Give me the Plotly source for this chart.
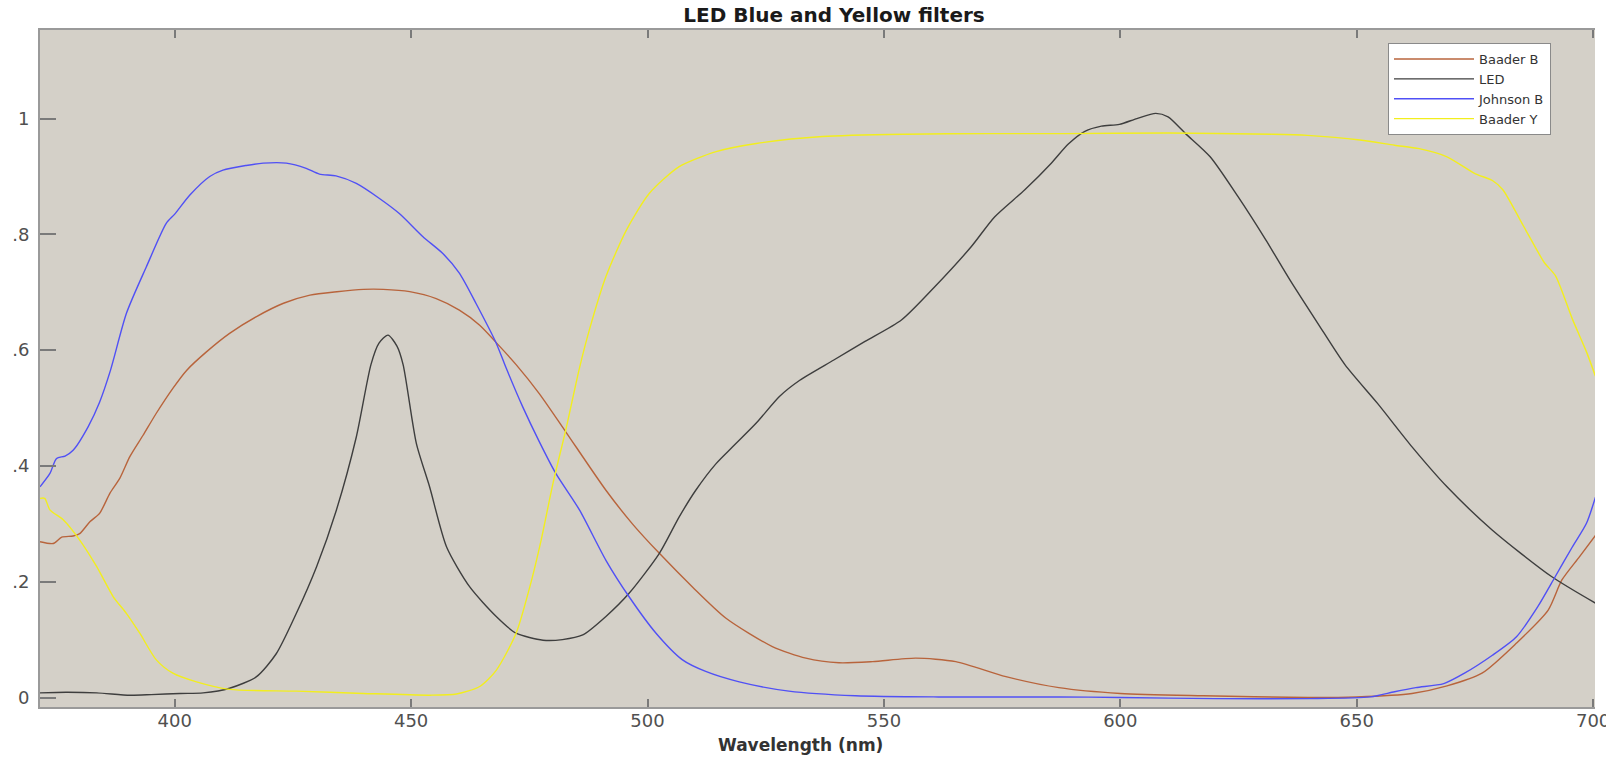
import plotly.graph_objects as go

# ---------------- data ----------------
wl_baader_b = [371.5, 374.3, 376.1, 378.5, 379.9, 382.1, 384.1, 386.3, 388.4, 390.5, 393.3, 396.1,
               399.6, 402.5, 406.7, 411.6, 417.3, 423.0, 428.6, 434.3, 439.9, 444.1, 449.7, 455.3,
               460.2, 464.5, 468.0, 472.2, 477.1, 482.7, 491.2, 496.8, 502.5, 509.5, 516.6, 526.4,
               533.5, 540.5, 547.6, 556.7, 565.2, 575.8, 587.0, 600.0, 617.5, 639.6, 650.0, 661.7,
               669.1, 676.5, 683.8, 690.5, 693.4, 697.1, 700.5]
baader_b = [0.269, 0.266, 0.277, 0.279, 0.283, 0.304, 0.318, 0.353, 0.379, 0.416, 0.453, 0.491,
            0.534, 0.565, 0.597, 0.629, 0.658, 0.681, 0.695, 0.701, 0.705, 0.705, 0.701, 0.689,
            0.669, 0.643, 0.613, 0.575, 0.525, 0.459, 0.358, 0.300, 0.249, 0.191, 0.137, 0.088,
            0.068, 0.060, 0.062, 0.068, 0.062, 0.036, 0.017, 0.007, 0.003, 0.000, 0.001, 0.007,
            0.020, 0.042, 0.094, 0.151, 0.203, 0.243, 0.280]

wl_led = [371.5, 377.0, 383.5, 390.5, 395.0, 401.1, 406.0, 411.6, 417.3, 421.5, 425.7, 430.0,
          434.2, 438.4, 441.5, 443.2, 445.1, 447.0, 448.3, 451.1, 453.9, 457.5, 462.4, 468.0,
          472.2, 477.9, 482.0, 486.3, 491.2, 496.1, 502.5, 506.7, 510.2, 514.5, 518.0, 523.0,
          527.9, 532.2, 539.4, 546.0, 553.7, 560.7, 568.5, 573.4, 579.8, 585.4, 589.0, 592.5,
          596.0, 599.8, 603.5, 607.5, 610.1, 613.8, 619.0, 624.9, 630.8, 635.9, 641.8, 647.5,
          654.4, 661.7, 669.1, 678.7, 691.2, 700.5]
led = [0.008, 0.009, 0.008, 0.004, 0.005, 0.007, 0.008, 0.016, 0.036, 0.076, 0.145, 0.226,
       0.324, 0.450, 0.575, 0.612, 0.626, 0.607, 0.575, 0.439, 0.364, 0.260, 0.191, 0.140,
       0.111, 0.099, 0.100, 0.108, 0.140, 0.180, 0.249, 0.312, 0.358, 0.404, 0.433, 0.474,
       0.520, 0.548, 0.583, 0.615, 0.652, 0.709, 0.779, 0.830, 0.877, 0.923, 0.956, 0.978,
       0.987, 0.990, 1.000, 1.009, 1.003, 0.974, 0.934, 0.865, 0.790, 0.721, 0.646, 0.575,
       0.508, 0.433, 0.364, 0.289, 0.209, 0.163]

wl_johnson_b = [371.5, 373.6, 375.0, 376.8, 378.5, 381.7, 384.1, 386.4, 389.8, 394.0, 398.2, 400.0,
                403.2, 407.4, 410.2, 415.1, 418.7, 423.6, 427.8, 430.6, 434.1, 438.4, 443.3, 447.5,
                452.5, 456.7, 460.2, 463.7, 468.0, 470.1, 473.6, 477.1, 480.6, 485.6, 491.2, 496.1,
                501.8, 507.4, 512.3, 519.4, 529.9, 544.0, 561.6, 587.0, 600.0, 620.0, 640.0, 652.9,
                658.0, 662.5, 668.4, 672.8, 678.7, 683.8, 688.3, 692.0, 695.6, 698.6, 700.5]
johnson_b = [0.364, 0.387, 0.413, 0.417, 0.427, 0.468, 0.510, 0.565, 0.664, 0.744, 0.819, 0.835,
             0.868, 0.900, 0.911, 0.919, 0.923, 0.923, 0.914, 0.904, 0.901, 0.888, 0.862, 0.836,
             0.796, 0.767, 0.733, 0.681, 0.612, 0.569, 0.502, 0.442, 0.387, 0.324, 0.237, 0.174,
             0.111, 0.065, 0.045, 0.027, 0.011, 0.003, 0.001, 0.001, 0.000, -0.002, -0.002, 0.001,
             0.010, 0.017, 0.024, 0.042, 0.073, 0.105, 0.157, 0.209, 0.260, 0.301, 0.346]

wl_baader_y = [371.5, 372.5, 373.6, 376.4, 379.9, 383.5, 387.0, 389.8, 392.6, 396.1, 399.6, 404.6,
               411.6, 425.7, 439.9, 454.0, 459.6, 464.5, 468.0, 472.2, 475.1, 477.5, 480.0, 482.7,
               485.6, 487.7, 491.2, 495.5, 500.4, 506.7, 514.5, 523.0, 537.0, 554.6, 572.2, 588.0,
               610.1, 632.2, 639.6, 650.7, 658.0, 663.2, 669.1, 675.0, 678.7, 680.9, 685.3, 689.7,
               692.0, 695.6, 698.6, 700.5]
baader_y = [0.344, 0.344, 0.324, 0.307, 0.272, 0.226, 0.174, 0.145, 0.111, 0.065, 0.042, 0.027,
            0.014, 0.011, 0.007, 0.004, 0.006, 0.019, 0.047, 0.111, 0.191, 0.272, 0.370, 0.462,
            0.569, 0.635, 0.727, 0.807, 0.871, 0.917, 0.943, 0.957, 0.969, 0.973, 0.974, 0.974,
            0.975, 0.973, 0.971, 0.963, 0.954, 0.948, 0.934, 0.905, 0.893, 0.877, 0.814, 0.751,
            0.729, 0.654, 0.597, 0.555]

x_ticks = [400, 450, 500, 550, 600, 650, 700]
y_ticks = [0, 0.2, 0.4, 0.6, 0.8, 1.0]
y_tick_text = ["0", ".2", ".4", ".6", ".8", "1"]

# ---------------- figure ----------------
W, H = 1606, 759
L, R, T, B = 40, 11, 30, 52
PW, PH = W - L - R, H - T - B

fig = go.Figure()
series = [
    ("Baader B", wl_baader_b, baader_b, "#b8643c"),
    ("LED", wl_led, led, "#3e3e3e"),
    ("Johnson B", wl_johnson_b, johnson_b, "#5050f5"),
    ("Baader Y", wl_baader_y, baader_y, "#f2ee1e"),
]
for name, xs, ys, col in series:
    fig.add_trace(go.Scatter(x=xs, y=ys, mode="lines", name=name,
                             line=dict(color=col, width=1.4, shape="spline", smoothing=0.7)))

tick_font = dict(family="DejaVu Sans", size=18, color="#505050")

fig.update_layout(
    width=W, height=H,
    margin=dict(l=L, r=R, t=T, b=B),
    paper_bgcolor="white",
    plot_bgcolor="#d4d0c8",
    title=dict(text="<b>LED Blue and Yellow filters</b>",
               font=dict(family="DejaVu Sans", size=20, color="#1a1a1a"),
               x=(834 - L) / PW, xref="paper", xanchor="center",
               y=1 - 15 / H, yref="container", yanchor="middle"),
    xaxis=dict(range=[371.5, 700.4], tickvals=x_ticks, ticktext=[str(v) for v in x_ticks],
               showgrid=False, zeroline=False, showline=True, linecolor="#9a9a9a", linewidth=2,
               mirror="ticks", ticks="inside", ticklen=8, tickcolor="#7a7a7a", tickwidth=1.5,
               tickfont=tick_font, ticklabelstandoff=-4, ticklabeloverflow="allow",
               automargin=False),
    yaxis=dict(range=[-0.0164, 1.153], tickvals=y_ticks, ticktext=y_tick_text,
               showgrid=False, zeroline=False, showline=True, linecolor="#9a9a9a", linewidth=2,
               ticks="inside", ticklen=16, tickcolor="#7a7a7a", tickwidth=1.5,
               tickfont=tick_font, ticklabelstandoff=5, automargin=False),
    legend=dict(x=(1388 - L) / PW, y=(H - B - 43) / PH, xanchor="left", yanchor="top",
                bgcolor="white", bordercolor="#8a8a8a", borderwidth=1,
                font=dict(family="DejaVu Sans", size=13, color="#333333"),
                tracegroupgap=0, itemwidth=80),
    showlegend=True,
    annotations=[dict(text="<b>Wavelength (nm)</b>", xref="paper", yref="paper",
                      x=(800 - L) / PW, y=-(745 - (H - B)) / PH, xanchor="center", yanchor="middle",
                      showarrow=False, font=dict(family="DejaVu Sans", size=17, color="#333333"))],
)

fig.write_html("out.html", config={"displayModeBar": False},
               post_script="document.body.style.margin='0px';document.body.style.overflow='hidden';")
